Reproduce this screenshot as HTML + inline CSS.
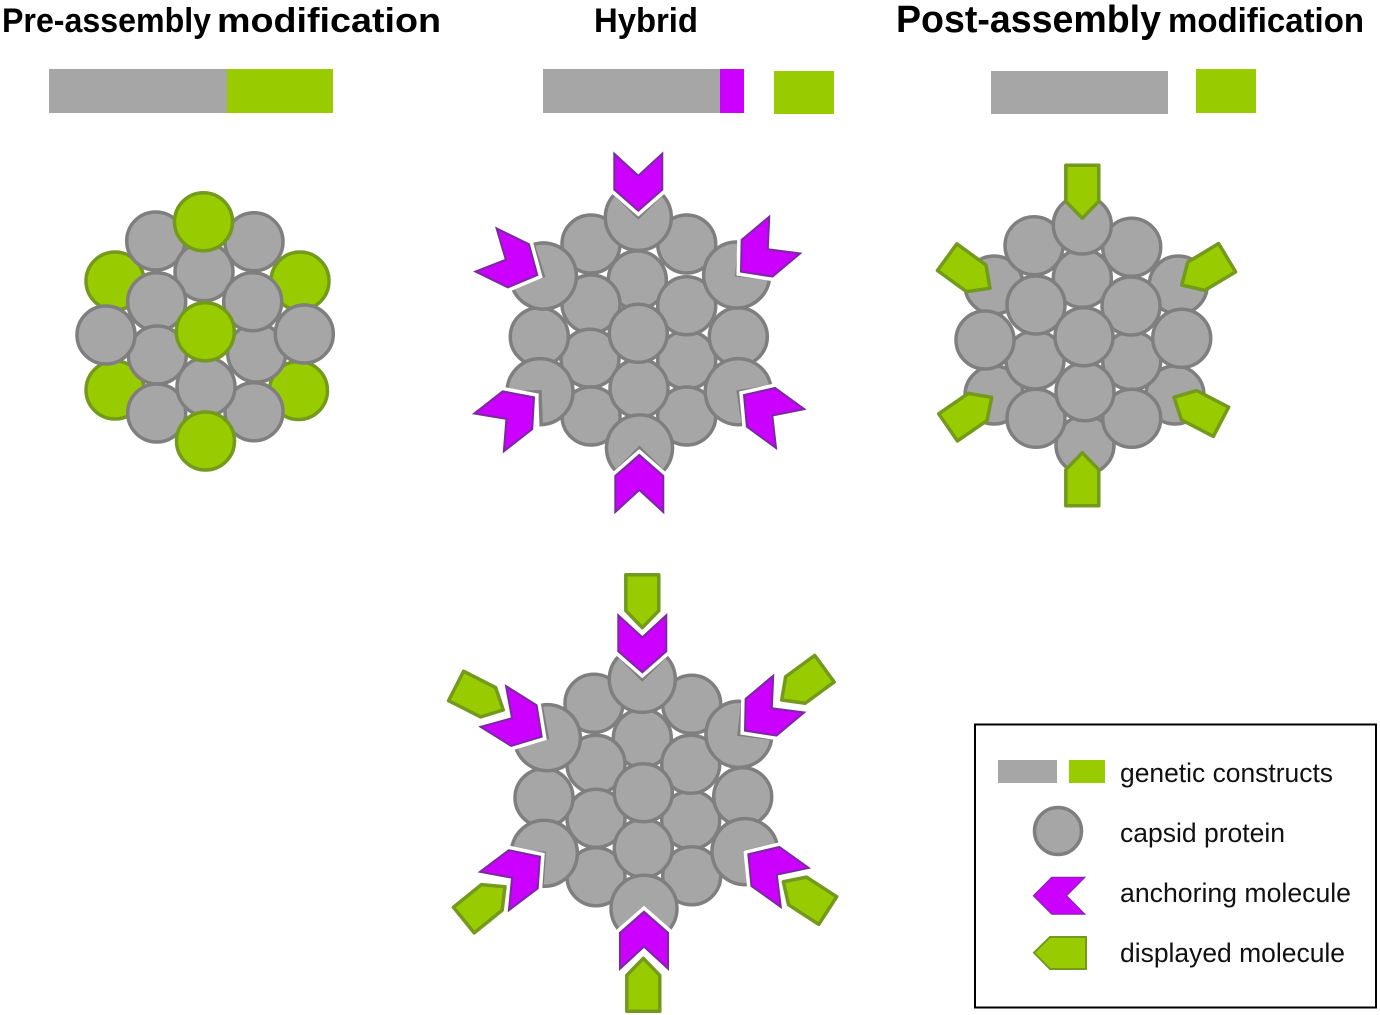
<!DOCTYPE html>
<html>
<head>
<meta charset="utf-8">
<style>
html,body{margin:0;padding:0;background:#fff}
svg{display:block}
.c{fill:#a6a6a6;stroke:#7f7f7f;stroke-width:3.5}
.g{fill:#99cc00;stroke:#739a1c;stroke-width:3.5}
text{font-family:"Liberation Sans",sans-serif;fill:#000}
.h{font-weight:bold;font-size:34px}
.l{font-size:27px;fill:#111}
</style>
</head>
<body>
<svg width="1380" height="1015" viewBox="0 0 1380 1015" xmlns="http://www.w3.org/2000/svg">
<defs>
  <path id="pac" class="c" d="M0 0L-23.3 -23.3A33 33 0 1 0 23.3 -23.3Z"/>
  <g id="chev">
    <polygon points="-24,-57 0,-35 24,-57 24,-21 0,0 -24,-21" fill="#fff" stroke="#fff" stroke-width="9" stroke-linejoin="miter"/>
    <polygon points="-24,-57 0,-35 24,-57 24,-21 0,0 -24,-21" fill="#cc00ff" stroke="#7a2aa0" stroke-width="2"/>
  </g>
  <polygon id="disp" class="g" stroke-linejoin="round" points="-16.5,-53 16.5,-53 16.5,-17 0,0 -16.5,-17"/>
</defs>

<!-- Titles -->
<text class="h" x="2" y="32" textLength="209" lengthAdjust="spacingAndGlyphs">Pre-assembly</text>
<text class="h" x="217" y="32" textLength="224" lengthAdjust="spacingAndGlyphs">modification</text>
<text class="h" x="594" y="32" textLength="104" lengthAdjust="spacingAndGlyphs">Hybrid</text>
<text class="h" x="896" y="32" style="font-size:38px" textLength="265" lengthAdjust="spacingAndGlyphs">Post-assembly</text>
<text class="h" x="1168" y="32" textLength="196" lengthAdjust="spacingAndGlyphs">modification</text>

<!-- Bars -->
<rect x="49" y="69" width="178" height="44" fill="#a6a6a6"/>
<rect x="227" y="69" width="106" height="44" fill="#99cc00"/>
<rect x="543" y="69" width="177" height="44" fill="#a6a6a6"/>
<rect x="720" y="69" width="24" height="44" fill="#cc00ff"/>
<rect x="774" y="71" width="60" height="43" fill="#99cc00"/>
<rect x="991" y="71" width="177" height="43" fill="#a6a6a6"/>
<rect x="1196" y="69" width="60" height="44" fill="#99cc00"/>

<!-- Panel 1 -->
<g>
  <circle class="g" cx="115" cy="281" r="29"/>
  <circle class="g" cx="300" cy="281" r="29"/>
  <circle class="g" cx="115" cy="390" r="29"/>
  <circle class="g" cx="298.5" cy="390.5" r="29"/>
  <circle class="c" cx="155.7" cy="241" r="29"/>
  <circle class="c" cx="254" cy="241.7" r="29"/>
  <circle class="c" cx="204" cy="271.7" r="29"/>
  <circle class="g" cx="203.5" cy="221.7" r="29"/>
  <circle class="c" cx="156.7" cy="301.7" r="29"/>
  <circle class="c" cx="256.7" cy="353" r="29"/>
  <circle class="c" cx="252.7" cy="301.7" r="29"/>
  <circle class="c" cx="157.3" cy="355" r="29"/>
  <circle class="c" cx="106" cy="335" r="29"/>
  <circle class="c" cx="304.3" cy="334" r="29"/>
  <circle class="c" cx="156.7" cy="413" r="29"/>
  <circle class="c" cx="254" cy="411.7" r="29"/>
  <circle class="c" cx="206" cy="386.7" r="29"/>
  <circle class="g" cx="205.5" cy="441" r="29"/>
  <circle class="g" cx="205.3" cy="331.7" r="29"/>
</g>

<!-- Panel 2 -->
<g>
  <circle class="c" cx="591" cy="244" r="29"/>
  <circle class="c" cx="686.7" cy="244" r="29"/>
  <circle class="c" cx="637.3" cy="280" r="29"/>
  <circle class="c" cx="591" cy="304" r="29"/>
  <circle class="c" cx="590" cy="358.3" r="29"/>
  <circle class="c" cx="686.7" cy="360" r="29"/>
  <circle class="c" cx="686.7" cy="305.7" r="29"/>
  <circle class="c" cx="539.3" cy="336.7" r="29"/>
  <circle class="c" cx="738.3" cy="336.7" r="29"/>
  <circle class="c" cx="591" cy="416" r="29"/>
  <circle class="c" cx="686.7" cy="416" r="29"/>
  <circle class="c" cx="639" cy="388.3" r="29"/>
  <circle class="c" cx="638.3" cy="333.3" r="29"/>
  <use href="#pac" transform="translate(638.3,217.3)"/>
  <use href="#pac" transform="translate(543.3,276) rotate(-63)"/>
  <use href="#pac" transform="translate(736.7,275) rotate(51)"/>
  <use href="#pac" transform="translate(540,391.7) rotate(-137)"/>
  <use href="#pac" transform="translate(738.3,391.7) rotate(126)"/>
  <use href="#pac" transform="translate(639.5,448) rotate(180)"/>
  <use href="#chev" transform="translate(638.3,210.7)"/>
  <use href="#chev" transform="translate(537.3,275) rotate(-64)"/>
  <use href="#chev" transform="translate(741,271.7) rotate(50)"/>
  <use href="#chev" transform="translate(534,397.3) rotate(-128)"/>
  <use href="#chev" transform="translate(744,395) rotate(126)"/>
  <use href="#chev" transform="translate(639.3,455) rotate(180)"/>
</g>

<!-- Panel 3 -->
<g>
  <circle class="c" cx="994" cy="285" r="29"/>
  <circle class="c" cx="1178.3" cy="285" r="29"/>
  <circle class="c" cx="994" cy="395" r="29"/>
  <circle class="c" cx="1175" cy="395" r="29"/>
  <circle class="c" cx="1085" cy="445" r="29"/>
  <circle class="c" cx="1034" cy="245.7" r="29"/>
  <circle class="c" cx="1131.7" cy="247.3" r="29"/>
  <circle class="c" cx="1082.3" cy="278.3" r="29"/>
  <circle class="c" cx="1082.3" cy="225" r="29"/>
  <circle class="c" cx="1035" cy="360" r="29"/>
  <circle class="c" cx="1131.7" cy="360.7" r="29"/>
  <circle class="c" cx="1036" cy="305" r="29"/>
  <circle class="c" cx="1131" cy="306" r="29"/>
  <circle class="c" cx="1036" cy="418.3" r="29"/>
  <circle class="c" cx="1131.7" cy="418.3" r="29"/>
  <circle class="c" cx="1085" cy="391.7" r="29"/>
  <circle class="c" cx="1084" cy="336.7" r="29"/>
  <circle class="c" cx="985" cy="340" r="29"/>
  <circle class="c" cx="1181.7" cy="338.3" r="29"/>
  <use href="#disp" transform="translate(1082.3,218.3)"/>
  <use href="#disp" transform="translate(990,288.3) rotate(-54)"/>
  <use href="#disp" transform="translate(1181.7,285) rotate(59)"/>
  <use href="#disp" transform="translate(991.7,397.3) rotate(-124.6)"/>
  <use href="#disp" transform="translate(1174,397.3) rotate(117.6)"/>
  <use href="#disp" transform="translate(1082.3,452.7) rotate(180)"/>
</g>

<!-- Panel 4 -->
<g>
  <circle class="c" cx="594" cy="703.3" r="29"/>
  <circle class="c" cx="691.7" cy="704.3" r="29"/>
  <circle class="c" cx="642.3" cy="738.3" r="29"/>
  <circle class="c" cx="596" cy="764.3" r="29"/>
  <circle class="c" cx="596" cy="818.3" r="29"/>
  <circle class="c" cx="690.7" cy="820" r="29"/>
  <circle class="c" cx="690.7" cy="764.3" r="29"/>
  <circle class="c" cx="544" cy="797.7" r="29"/>
  <circle class="c" cx="742.7" cy="796.7" r="29"/>
  <circle class="c" cx="596" cy="876.7" r="29"/>
  <circle class="c" cx="691.7" cy="875.7" r="29"/>
  <circle class="c" cx="643.3" cy="848.3" r="29"/>
  <circle class="c" cx="643.3" cy="792.7" r="29"/>
  <use href="#pac" transform="translate(642.3,679.3)"/>
  <use href="#pac" transform="translate(547.3,737.7) rotate(-56)"/>
  <use href="#pac" transform="translate(739,734.3) rotate(52)"/>
  <use href="#pac" transform="translate(544.3,853.3) rotate(-131)"/>
  <use href="#pac" transform="translate(745,851.7) rotate(124)"/>
  <use href="#pac" transform="translate(644,908.3) rotate(180)"/>
  <use href="#chev" transform="translate(642.3,672.3)"/>
  <use href="#chev" transform="translate(541.7,736.7) rotate(-58)"/>
  <use href="#chev" transform="translate(745,730.7) rotate(50)"/>
  <use href="#chev" transform="translate(540,856.7) rotate(-127)"/>
  <use href="#chev" transform="translate(748.3,854.3) rotate(125.5)"/>
  <use href="#chev" transform="translate(644,911.7) rotate(180)"/>
  <use href="#disp" transform="translate(642.3,627.7)"/>
  <use href="#disp" transform="translate(503.3,710) rotate(-63)"/>
  <use href="#disp" transform="translate(781.7,700) rotate(53.8)"/>
  <use href="#disp" transform="translate(505,886.7) rotate(-129)"/>
  <use href="#disp" transform="translate(783.3,881.7) rotate(123)"/>
  <use href="#disp" transform="translate(643.3,958.3) rotate(180)"/>
</g>

<!-- Legend -->
<rect x="975" y="724.5" width="401" height="283" fill="#fff" stroke="#000" stroke-width="2"/>
<rect x="998" y="760" width="59" height="23" fill="#a6a6a6"/>
<rect x="1069" y="760" width="36" height="23" fill="#99cc00"/>
<circle class="c" cx="1058" cy="831" r="23.5"/>
<polygon points="1033.3,895.7 1051.7,877.3 1085,877.3 1066.7,895.7 1085,914.3 1051.7,914.3" fill="#cc00ff" stroke="#7a2aa0" stroke-width="1"/>
<polygon points="1034,952.7 1050,937 1086,937 1086,969 1050,969" fill="#99cc00" stroke="#739a1c" stroke-width="2"/>
<text class="l" x="1120" y="782" textLength="213" lengthAdjust="spacingAndGlyphs">genetic constructs</text>
<text class="l" x="1120" y="842" textLength="165" lengthAdjust="spacingAndGlyphs">capsid protein</text>
<text class="l" x="1120" y="902" textLength="231" lengthAdjust="spacingAndGlyphs">anchoring molecule</text>
<text class="l" x="1120" y="962" textLength="225" lengthAdjust="spacingAndGlyphs">displayed molecule</text>
</svg>
</body>
</html>
